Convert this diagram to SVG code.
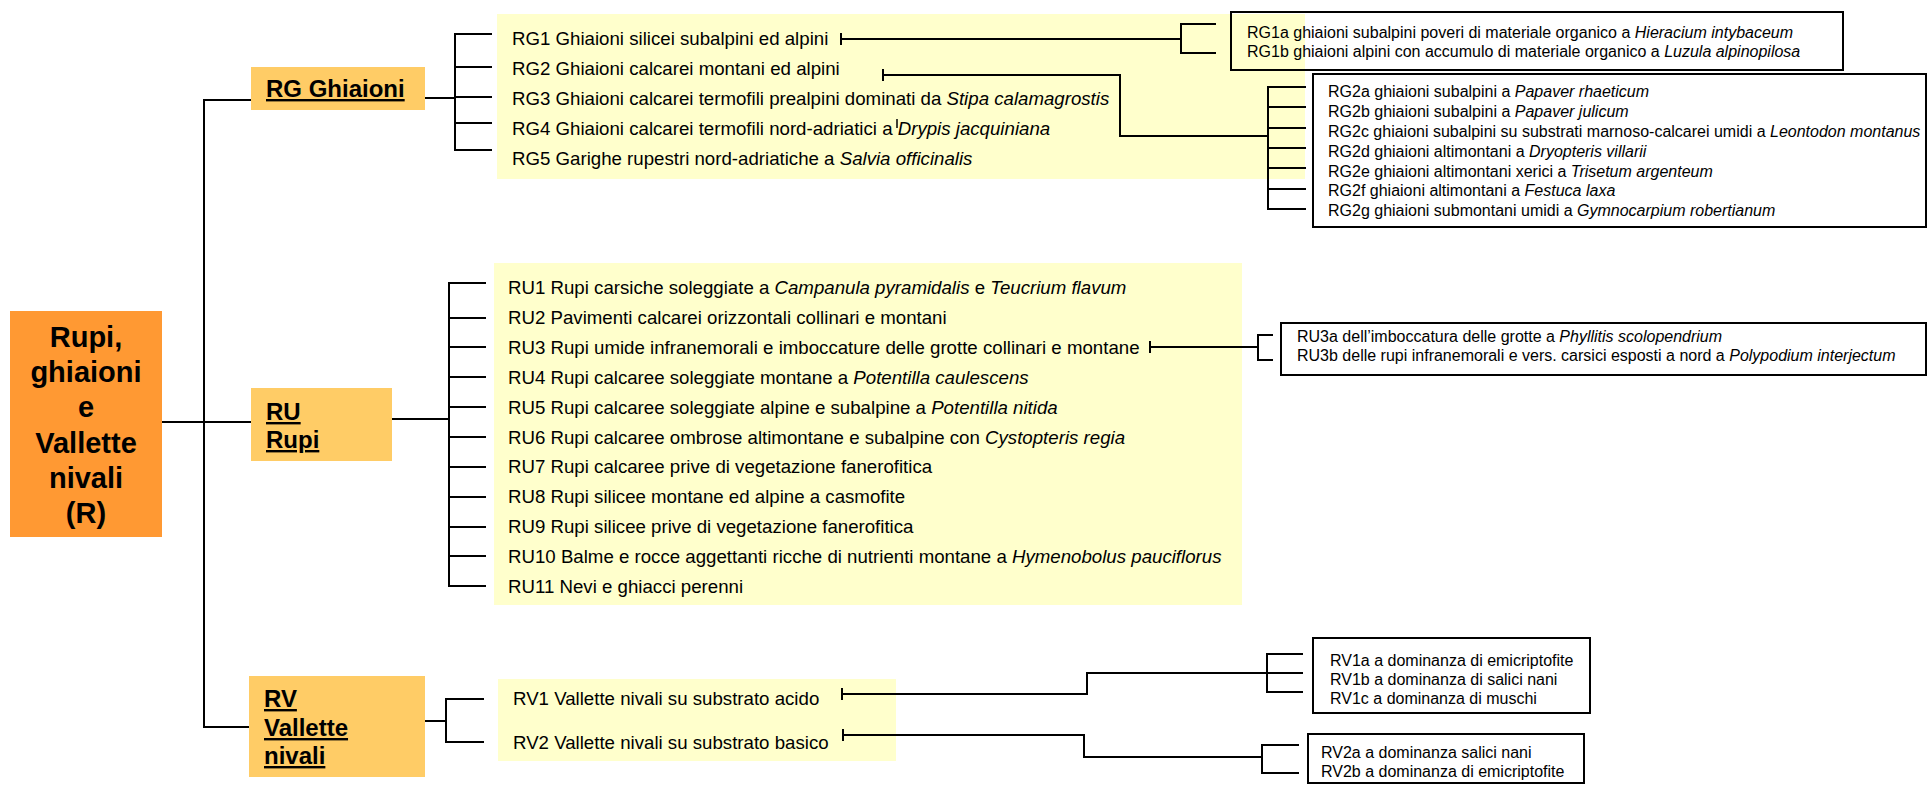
<svg xmlns="http://www.w3.org/2000/svg" width="1928" height="785" viewBox="0 0 1928 785">
<style>
text{font-family:"Liberation Sans",Arial,sans-serif;fill:#000}
.p{font-size:18.67px}
.s{font-size:16px}
.n{font-size:24px;font-weight:bold;text-decoration:underline}
.r{font-size:29px;font-weight:bold;text-anchor:middle}
.i{font-style:italic}
.c{fill:none;stroke:#000;stroke-width:2}
.box{fill:none;stroke:#000;stroke-width:2}
.panel{fill:#FFFFCC}
.node{fill:#FFCC66}
</style>
<defs>
<marker id="bar" markerWidth="4" markerHeight="16" refX="2" refY="8" orient="auto" markerUnits="userSpaceOnUse">
<path d="M2,2 V14" stroke="#000" stroke-width="2"/>
</marker>
</defs>
<rect width="1928" height="785" fill="#fff"/>

<g id="panel-RG">
<rect class="panel" x="497" y="14" width="808" height="165"/>
<text class="p" x="512" y="45">RG1 Ghiaioni silicei subalpini ed alpini</text>
<text class="p" x="512" y="75">RG2 Ghiaioni calcarei montani ed alpini</text>
<text class="p" x="512" y="105">RG3 Ghiaioni calcarei termofili prealpini dominati da <tspan class="i">Stipa calamagrostis</tspan></text>
<text class="p" x="512" y="135">RG4 Ghiaioni calcarei termofili nord-adriatici a <tspan class="i">Drypis jacquiniana</tspan></text>
<text class="p" x="512" y="165">RG5 Garighe rupestri nord-adriatiche a <tspan class="i">Salvia officinalis</tspan></text>
<line x1="897" y1="119" x2="897" y2="128" stroke="#000" stroke-width="1.5"/>
</g>

<g id="panel-RU">
<rect class="panel" x="494" y="263" width="748" height="342"/>
<text class="p" x="508" y="294">RU1 Rupi carsiche soleggiate a <tspan class="i">Campanula pyramidalis</tspan> e <tspan class="i">Teucrium flavum</tspan></text>
<text class="p" x="508" y="324">RU2 Pavimenti calcarei orizzontali collinari e montani</text>
<text class="p" x="508" y="354">RU3 Rupi umide infranemorali e imboccature delle grotte collinari e montane</text>
<text class="p" x="508" y="384">RU4 Rupi calcaree soleggiate montane a <tspan class="i">Potentilla caulescens</tspan></text>
<text class="p" x="508" y="414">RU5 Rupi calcaree soleggiate alpine e subalpine a <tspan class="i">Potentilla nitida</tspan></text>
<text class="p" x="508" y="443.5">RU6 Rupi calcaree ombrose altimontane e subalpine con <tspan class="i">Cystopteris regia</tspan></text>
<text class="p" x="508" y="473">RU7 Rupi calcaree prive di vegetazione fanerofitica</text>
<text class="p" x="508" y="503">RU8 Rupi silicee montane ed alpine a casmofite</text>
<text class="p" x="508" y="533">RU9 Rupi silicee prive di vegetazione fanerofitica</text>
<text class="p" x="508" y="563">RU10 Balme e rocce aggettanti ricche di nutrienti montane a <tspan class="i">Hymenobolus pauciflorus</tspan></text>
<text class="p" x="508" y="593">RU11 Nevi e ghiacci perenni</text>
</g>

<g id="panel-RV">
<rect class="panel" x="498" y="679" width="398" height="82"/>
<text class="p" x="513" y="705">RV1 Vallette nivali su substrato acido</text>
<text class="p" x="513" y="749">RV2 Vallette nivali su substrato basico</text>
</g>

<g id="connectors">
<path class="c" d="M162,422 H251"/>
<path class="c" d="M251,100 H204 V727 H250"/>
<path class="c" d="M425,98 H455"/>
<path class="c" d="M492,34 H455 V150 H492 M455,67 H492 M455,97 H492 M455,123 H492"/>
<path class="c" d="M392,419 H449"/>
<path class="c" d="M486,283 H449 V586 H486 M449,318 H486 M449,347 H486 M449,377 H486 M449,407 H486 M449,437 H486 M449,467 H486 M449,497 H486 M449,527 H486 M449,556 H486"/>
<path class="c" d="M425,721 H446"/>
<path class="c" d="M484,699 H446 V742 H484"/>
<path class="c" marker-start="url(#bar)" d="M841,39 H1181"/>
<path class="c" d="M1216,24 H1181 V53 H1216"/>
<path class="c" marker-start="url(#bar)" d="M883,75 H1120 V136 H1268"/>
<path class="c" d="M1306,87 H1268 V209 H1306 M1268,107 H1306 M1268,128 H1306 M1268,148 H1306 M1268,168 H1306 M1268,189 H1306"/>
<path class="c" marker-start="url(#bar)" d="M1150,347 H1258"/>
<path class="c" d="M1273,335 H1258 V360 H1273"/>
<path class="c" marker-start="url(#bar)" d="M842,694 H1087 V673 H1267"/>
<path class="c" d="M1303,654 H1267 V692 H1303 M1267,673 H1303"/>
<path class="c" marker-start="url(#bar)" d="M843,735 H1084 V757 H1262"/>
<path class="c" d="M1299,745 H1262 V773 H1299"/>
</g>

<g id="root">
<rect x="10" y="311" width="152" height="226" fill="#FF9933"/>
<text class="r" x="86" y="347">Rupi,</text>
<text class="r" x="86" y="382">ghiaioni</text>
<text class="r" x="86" y="417">e</text>
<text class="r" x="86" y="452.5">Vallette</text>
<text class="r" x="86" y="488">nivali</text>
<text class="r" x="86" y="523">(R)</text>
</g>

<g id="RG">
<rect class="node" x="251" y="67" width="174" height="43"/>
<text class="n" x="266" y="97">RG Ghiaioni</text>
</g>

<g id="RU">
<rect class="node" x="251" y="388" width="141" height="73"/>
<text class="n" x="266" y="420">RU</text>
<text class="n" x="266" y="448">Rupi</text>
</g>

<g id="RV">
<rect class="node" x="249" y="676" width="176" height="101"/>
<text class="n" x="264" y="707">RV</text>
<text class="n" x="264" y="736">Vallette</text>
<text class="n" x="264" y="764">nivali</text>
</g>

<g id="RG1-sub">
<rect class="box" x="1231" y="12" width="612" height="58"/>
<text class="s" x="1247" y="38">RG1a ghiaioni subalpini poveri di materiale organico a <tspan class="i">Hieracium intybaceum</tspan></text>
<text class="s" x="1247" y="57">RG1b ghiaioni alpini con accumulo di materiale organico a <tspan class="i">Luzula alpinopilosa</tspan></text>
</g>

<g id="RG2-sub">
<rect class="box" x="1313" y="74" width="613" height="153"/>
<text class="s" x="1328" y="97">RG2a ghiaioni subalpini a <tspan class="i">Papaver rhaeticum</tspan></text>
<text class="s" x="1328" y="117">RG2b ghiaioni subalpini a <tspan class="i">Papaver julicum</tspan></text>
<text class="s" x="1328" y="137">RG2c ghiaioni subalpini su substrati marnoso-calcarei umidi a <tspan class="i">Leontodon montanus</tspan></text>
<text class="s" x="1328" y="157">RG2d ghiaioni altimontani a <tspan class="i">Dryopteris villarii</tspan></text>
<text class="s" x="1328" y="176.5">RG2e ghiaioni altimontani xerici a <tspan class="i">Trisetum argenteum</tspan></text>
<text class="s" x="1328" y="196">RG2f ghiaioni altimontani a <tspan class="i">Festuca laxa</tspan></text>
<text class="s" x="1328" y="216">RG2g ghiaioni submontani umidi a <tspan class="i">Gymnocarpium robertianum</tspan></text>
</g>

<g id="RU3-sub">
<rect class="box" x="1281" y="323" width="645" height="52"/>
<text class="s" x="1297" y="342">RU3a dell’imboccatura delle grotte a <tspan class="i">Phyllitis scolopendrium</tspan></text>
<text class="s" x="1297" y="361">RU3b delle rupi infranemorali e vers. carsici esposti a nord a <tspan class="i">Polypodium interjectum</tspan></text>
</g>

<g id="RV1-sub">
<rect class="box" x="1313" y="638" width="277" height="75"/>
<text class="s" x="1330" y="666">RV1a a dominanza di emicriptofite</text>
<text class="s" x="1330" y="685">RV1b a dominanza di salici nani</text>
<text class="s" x="1330" y="704">RV1c a dominanza di muschi</text>
</g>

<g id="RV2-sub">
<rect class="box" x="1308" y="734" width="276" height="49"/>
<text class="s" x="1321" y="758">RV2a a dominanza salici nani</text>
<text class="s" x="1321" y="777">RV2b a dominanza di emicriptofite</text>
</g>
</svg>
